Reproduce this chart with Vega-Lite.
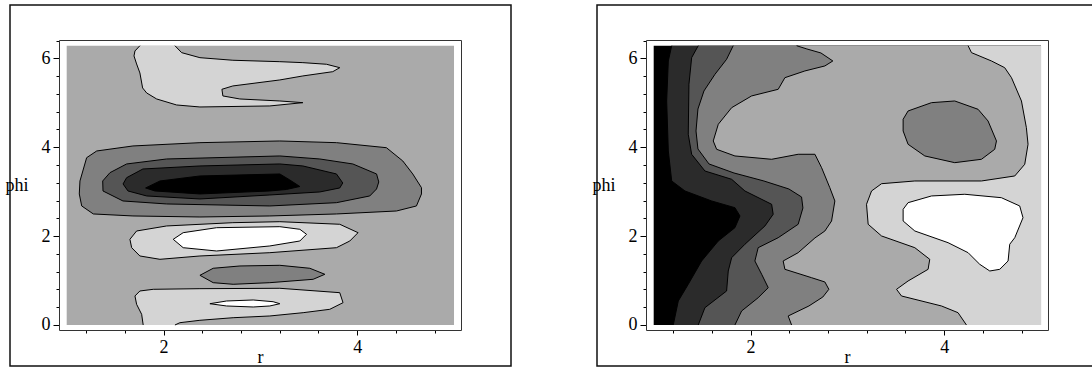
{
"$schema": "https://vega.github.io/schema/vega-lite/v6.json",
"padding": {"left": 4, "top": 4, "right": 0, "bottom": 0},
"spacing": 79,
"config": {
  "view": {"stroke": "#111", "strokeWidth": 1.5},
  "axis": {"labelFont": "Liberation Serif", "labelFontSize": 18, "labelColor": "#000", "titleFont": "Liberation Serif", "titleFontSize": 18, "titleFontWeight": "normal", "titleColor": "#000", "domainColor": "#333", "domainWidth": 1, "tickColor": "#000", "tickWidth": 1, "grid": false, "labelOverlap": false, "labelFlush": false}
},
"datasets": {"cont": [
{"p":"a","g":"a00","k":0,"r":1,"phi":0,"c":4,"ln":0},
{"p":"a","g":"a00","k":1,"r":5,"phi":0,"c":4,"ln":0},
{"p":"a","g":"a00","k":2,"r":5,"phi":6.2832,"c":4,"ln":0},
{"p":"a","g":"a00","k":3,"r":1,"phi":6.2832,"c":4,"ln":0},
{"p":"a","g":"a01","k":0,"r":2.118,"phi":6.283,"c":5,"ln":1},
{"p":"a","g":"a01","k":1,"r":2.187,"phi":6.127,"c":5,"ln":1},
{"p":"a","g":"a01","k":2,"r":2.376,"phi":6.014,"c":5,"ln":1},
{"p":"a","g":"a01","k":3,"r":2.716,"phi":5.956,"c":5,"ln":1},
{"p":"a","g":"a01","k":4,"r":3.201,"phi":5.924,"c":5,"ln":1},
{"p":"a","g":"a01","k":5,"r":3.439,"phi":5.902,"c":5,"ln":1},
{"p":"a","g":"a01","k":6,"r":3.683,"phi":5.866,"c":5,"ln":1},
{"p":"a","g":"a01","k":7,"r":3.820,"phi":5.789,"c":5,"ln":1},
{"p":"a","g":"a01","k":8,"r":3.748,"phi":5.699,"c":5,"ln":1},
{"p":"a","g":"a01","k":9,"r":3.439,"phi":5.603,"c":5,"ln":1},
{"p":"a","g":"a01","k":10,"r":3.201,"phi":5.513,"c":5,"ln":1},
{"p":"a","g":"a01","k":11,"r":2.716,"phi":5.378,"c":5,"ln":1},
{"p":"a","g":"a01","k":12,"r":2.603,"phi":5.303,"c":5,"ln":1},
{"p":"a","g":"a01","k":13,"r":2.613,"phi":5.153,"c":5,"ln":1},
{"p":"a","g":"a01","k":14,"r":2.788,"phi":5.085,"c":5,"ln":1},
{"p":"a","g":"a01","k":15,"r":3.201,"phi":5.040,"c":5,"ln":1},
{"p":"a","g":"a01","k":16,"r":3.439,"phi":5.002,"c":5,"ln":1},
{"p":"a","g":"a01","k":17,"r":3.098,"phi":4.928,"c":5,"ln":1},
{"p":"a","g":"a01","k":18,"r":2.376,"phi":4.905,"c":5,"ln":1},
{"p":"a","g":"a01","k":19,"r":2.135,"phi":4.950,"c":5,"ln":1},
{"p":"a","g":"a01","k":20,"r":1.929,"phi":5.085,"c":5,"ln":1},
{"p":"a","g":"a01","k":21,"r":1.826,"phi":5.220,"c":5,"ln":1},
{"p":"a","g":"a01","k":22,"r":1.784,"phi":5.333,"c":5,"ln":1},
{"p":"a","g":"a01","k":23,"r":1.756,"phi":5.670,"c":5,"ln":1},
{"p":"a","g":"a01","k":24,"r":1.722,"phi":5.873,"c":5,"ln":1},
{"p":"a","g":"a01","k":25,"r":1.695,"phi":6.053,"c":5,"ln":1},
{"p":"a","g":"a01","k":26,"r":1.705,"phi":6.165,"c":5,"ln":1},
{"p":"a","g":"a01","k":27,"r":1.756,"phi":6.283,"c":5,"ln":1},
{"p":"a","g":"a02","k":0,"r":1.137,"phi":3.240,"c":3,"ln":1},
{"p":"a","g":"a02","k":1,"r":1.206,"phi":3.764,"c":3,"ln":1},
{"p":"a","g":"a02","k":2,"r":1.310,"phi":3.915,"c":3,"ln":1},
{"p":"a","g":"a02","k":3,"r":1.684,"phi":4.028,"c":3,"ln":1},
{"p":"a","g":"a02","k":4,"r":2.376,"phi":4.102,"c":3,"ln":1},
{"p":"a","g":"a02","k":5,"r":3.201,"phi":4.140,"c":3,"ln":1},
{"p":"a","g":"a02","k":6,"r":3.786,"phi":4.102,"c":3,"ln":1},
{"p":"a","g":"a02","k":7,"r":4.302,"phi":3.989,"c":3,"ln":1},
{"p":"a","g":"a02","k":8,"r":4.471,"phi":3.690,"c":3,"ln":1},
{"p":"a","g":"a02","k":9,"r":4.574,"phi":3.398,"c":3,"ln":1},
{"p":"a","g":"a02","k":10,"r":4.664,"phi":3.089,"c":3,"ln":1},
{"p":"a","g":"a02","k":11,"r":4.664,"phi":2.948,"c":3,"ln":1},
{"p":"a","g":"a02","k":12,"r":4.612,"phi":2.678,"c":3,"ln":1},
{"p":"a","g":"a02","k":13,"r":4.406,"phi":2.565,"c":3,"ln":1},
{"p":"a","g":"a02","k":14,"r":3.786,"phi":2.498,"c":3,"ln":1},
{"p":"a","g":"a02","k":15,"r":3.098,"phi":2.453,"c":3,"ln":1},
{"p":"a","g":"a02","k":16,"r":2.376,"phi":2.430,"c":3,"ln":1},
{"p":"a","g":"a02","k":17,"r":1.684,"phi":2.453,"c":3,"ln":1},
{"p":"a","g":"a02","k":18,"r":1.275,"phi":2.498,"c":3,"ln":1},
{"p":"a","g":"a02","k":19,"r":1.155,"phi":2.678,"c":3,"ln":1},
{"p":"a","g":"a02","k":20,"r":1.130,"phi":2.948,"c":3,"ln":1},
{"p":"a","g":"a02","k":21,"r":1.137,"phi":3.240,"c":3,"ln":1},
{"p":"a","g":"a03","k":0,"r":1.372,"phi":3.240,"c":2,"ln":1},
{"p":"a","g":"a03","k":1,"r":1.447,"phi":3.427,"c":2,"ln":1},
{"p":"a","g":"a03","k":2,"r":1.619,"phi":3.623,"c":2,"ln":1},
{"p":"a","g":"a03","k":3,"r":2.032,"phi":3.735,"c":2,"ln":1},
{"p":"a","g":"a03","k":4,"r":3.201,"phi":3.803,"c":2,"ln":1},
{"p":"a","g":"a03","k":5,"r":3.614,"phi":3.735,"c":2,"ln":1},
{"p":"a","g":"a03","k":6,"r":3.955,"phi":3.623,"c":2,"ln":1},
{"p":"a","g":"a03","k":7,"r":4.200,"phi":3.398,"c":2,"ln":1},
{"p":"a","g":"a03","k":8,"r":4.223,"phi":3.218,"c":2,"ln":1},
{"p":"a","g":"a03","k":9,"r":4.200,"phi":3.060,"c":2,"ln":1},
{"p":"a","g":"a03","k":10,"r":4.130,"phi":2.903,"c":2,"ln":1},
{"p":"a","g":"a03","k":11,"r":3.786,"phi":2.752,"c":2,"ln":1},
{"p":"a","g":"a03","k":12,"r":3.098,"phi":2.678,"c":2,"ln":1},
{"p":"a","g":"a03","k":13,"r":2.032,"phi":2.723,"c":2,"ln":1},
{"p":"a","g":"a03","k":14,"r":1.581,"phi":2.790,"c":2,"ln":1},
{"p":"a","g":"a03","k":15,"r":1.375,"phi":3.015,"c":2,"ln":1},
{"p":"a","g":"a03","k":16,"r":1.372,"phi":3.240,"c":2,"ln":1},
{"p":"a","g":"a04","k":0,"r":1.582,"phi":3.173,"c":1,"ln":1},
{"p":"a","g":"a04","k":1,"r":1.619,"phi":3.314,"c":1,"ln":1},
{"p":"a","g":"a04","k":2,"r":1.787,"phi":3.510,"c":1,"ln":1},
{"p":"a","g":"a04","k":3,"r":2.376,"phi":3.578,"c":1,"ln":1},
{"p":"a","g":"a04","k":4,"r":3.201,"phi":3.623,"c":1,"ln":1},
{"p":"a","g":"a04","k":5,"r":3.439,"phi":3.578,"c":1,"ln":1},
{"p":"a","g":"a04","k":6,"r":3.786,"phi":3.398,"c":1,"ln":1},
{"p":"a","g":"a04","k":7,"r":3.851,"phi":3.195,"c":1,"ln":1},
{"p":"a","g":"a04","k":8,"r":3.820,"phi":3.083,"c":1,"ln":1},
{"p":"a","g":"a04","k":9,"r":3.614,"phi":2.993,"c":1,"ln":1},
{"p":"a","g":"a04","k":10,"r":3.098,"phi":2.925,"c":1,"ln":1},
{"p":"a","g":"a04","k":11,"r":2.376,"phi":2.835,"c":1,"ln":1},
{"p":"a","g":"a04","k":12,"r":1.826,"phi":2.903,"c":1,"ln":1},
{"p":"a","g":"a04","k":13,"r":1.633,"phi":3.015,"c":1,"ln":1},
{"p":"a","g":"a04","k":14,"r":1.582,"phi":3.173,"c":1,"ln":1},
{"p":"a","g":"a05","k":0,"r":1.815,"phi":3.083,"c":0,"ln":1},
{"p":"a","g":"a05","k":1,"r":1.963,"phi":3.240,"c":0,"ln":1},
{"p":"a","g":"a05","k":2,"r":2.376,"phi":3.353,"c":0,"ln":1},
{"p":"a","g":"a05","k":3,"r":3.201,"phi":3.398,"c":0,"ln":1},
{"p":"a","g":"a05","k":4,"r":3.304,"phi":3.263,"c":0,"ln":1},
{"p":"a","g":"a05","k":5,"r":3.408,"phi":3.116,"c":0,"ln":1},
{"p":"a","g":"a05","k":6,"r":3.270,"phi":3.049,"c":0,"ln":1},
{"p":"a","g":"a05","k":7,"r":3.098,"phi":3.015,"c":0,"ln":1},
{"p":"a","g":"a05","k":8,"r":2.376,"phi":2.948,"c":0,"ln":1},
{"p":"a","g":"a05","k":9,"r":1.911,"phi":3.015,"c":0,"ln":1},
{"p":"a","g":"a05","k":10,"r":1.815,"phi":3.083,"c":0,"ln":1},
{"p":"a","g":"a06","k":0,"r":1.653,"phi":1.928,"c":5,"ln":1},
{"p":"a","g":"a06","k":1,"r":1.722,"phi":2.115,"c":5,"ln":1},
{"p":"a","g":"a06","k":2,"r":2.032,"phi":2.228,"c":5,"ln":1},
{"p":"a","g":"a06","k":3,"r":2.716,"phi":2.302,"c":5,"ln":1},
{"p":"a","g":"a06","k":4,"r":3.201,"phi":2.324,"c":5,"ln":1},
{"p":"a","g":"a06","k":5,"r":3.820,"phi":2.266,"c":5,"ln":1},
{"p":"a","g":"a06","k":6,"r":4.009,"phi":2.077,"c":5,"ln":1},
{"p":"a","g":"a06","k":7,"r":3.924,"phi":1.890,"c":5,"ln":1},
{"p":"a","g":"a06","k":8,"r":3.786,"phi":1.739,"c":5,"ln":1},
{"p":"a","g":"a06","k":9,"r":3.098,"phi":1.627,"c":5,"ln":1},
{"p":"a","g":"a06","k":10,"r":2.376,"phi":1.553,"c":5,"ln":1},
{"p":"a","g":"a06","k":11,"r":1.963,"phi":1.478,"c":5,"ln":1},
{"p":"a","g":"a06","k":12,"r":1.756,"phi":1.553,"c":5,"ln":1},
{"p":"a","g":"a06","k":13,"r":1.671,"phi":1.739,"c":5,"ln":1},
{"p":"a","g":"a06","k":14,"r":1.653,"phi":1.928,"c":5,"ln":1},
{"p":"a","g":"a07","k":0,"r":2.100,"phi":1.928,"c":6,"ln":1},
{"p":"a","g":"a07","k":1,"r":2.203,"phi":2.077,"c":6,"ln":1},
{"p":"a","g":"a07","k":2,"r":2.548,"phi":2.189,"c":6,"ln":1},
{"p":"a","g":"a07","k":3,"r":3.201,"phi":2.212,"c":6,"ln":1},
{"p":"a","g":"a07","k":4,"r":3.408,"phi":2.153,"c":6,"ln":1},
{"p":"a","g":"a07","k":5,"r":3.477,"phi":2.041,"c":6,"ln":1},
{"p":"a","g":"a07","k":6,"r":3.408,"phi":1.890,"c":6,"ln":1},
{"p":"a","g":"a07","k":7,"r":3.098,"phi":1.778,"c":6,"ln":1},
{"p":"a","g":"a07","k":8,"r":2.548,"phi":1.665,"c":6,"ln":1},
{"p":"a","g":"a07","k":9,"r":2.203,"phi":1.739,"c":6,"ln":1},
{"p":"a","g":"a07","k":10,"r":2.100,"phi":1.928,"c":6,"ln":1},
{"p":"a","g":"a08","k":0,"r":2.376,"phi":1.118,"c":3,"ln":1},
{"p":"a","g":"a08","k":1,"r":2.513,"phi":1.276,"c":3,"ln":1},
{"p":"a","g":"a08","k":2,"r":2.789,"phi":1.328,"c":3,"ln":1},
{"p":"a","g":"a08","k":3,"r":3.201,"phi":1.343,"c":3,"ln":1},
{"p":"a","g":"a08","k":4,"r":3.511,"phi":1.276,"c":3,"ln":1},
{"p":"a","g":"a08","k":5,"r":3.666,"phi":1.141,"c":3,"ln":1},
{"p":"a","g":"a08","k":6,"r":3.545,"phi":1.028,"c":3,"ln":1},
{"p":"a","g":"a08","k":7,"r":3.098,"phi":0.952,"c":3,"ln":1},
{"p":"a","g":"a08","k":8,"r":2.719,"phi":0.916,"c":3,"ln":1},
{"p":"a","g":"a08","k":9,"r":2.513,"phi":0.952,"c":3,"ln":1},
{"p":"a","g":"a08","k":10,"r":2.376,"phi":1.118,"c":3,"ln":1},
{"p":"a","g":"a09","k":0,"r":1.790,"phi":0,"c":5,"ln":1},
{"p":"a","g":"a09","k":1,"r":1.774,"phi":0.241,"c":5,"ln":1},
{"p":"a","g":"a09","k":2,"r":1.722,"phi":0.466,"c":5,"ln":1},
{"p":"a","g":"a09","k":3,"r":1.705,"phi":0.653,"c":5,"ln":1},
{"p":"a","g":"a09","k":4,"r":1.756,"phi":0.765,"c":5,"ln":1},
{"p":"a","g":"a09","k":5,"r":1.894,"phi":0.803,"c":5,"ln":1},
{"p":"a","g":"a09","k":6,"r":2.376,"phi":0.817,"c":5,"ln":1},
{"p":"a","g":"a09","k":7,"r":3.201,"phi":0.826,"c":5,"ln":1},
{"p":"a","g":"a09","k":8,"r":3.820,"phi":0.727,"c":5,"ln":1},
{"p":"a","g":"a09","k":9,"r":3.854,"phi":0.502,"c":5,"ln":1},
{"p":"a","g":"a09","k":10,"r":3.717,"phi":0.353,"c":5,"ln":1},
{"p":"a","g":"a09","k":11,"r":3.442,"phi":0.277,"c":5,"ln":1},
{"p":"a","g":"a09","k":12,"r":3.098,"phi":0.203,"c":5,"ln":1},
{"p":"a","g":"a09","k":13,"r":2.719,"phi":0.164,"c":5,"ln":1},
{"p":"a","g":"a09","k":14,"r":2.376,"phi":0.106,"c":5,"ln":1},
{"p":"a","g":"a09","k":15,"r":2.169,"phi":0.052,"c":5,"ln":1},
{"p":"a","g":"a09","k":16,"r":2.118,"phi":0,"c":5,"ln":1},
{"p":"a","g":"a10","k":0,"r":2.479,"phi":0.479,"c":6,"ln":1},
{"p":"a","g":"a10","k":1,"r":2.651,"phi":0.540,"c":6,"ln":1},
{"p":"a","g":"a10","k":2,"r":2.926,"phi":0.563,"c":6,"ln":1},
{"p":"a","g":"a10","k":3,"r":3.132,"phi":0.524,"c":6,"ln":1},
{"p":"a","g":"a10","k":4,"r":3.201,"phi":0.479,"c":6,"ln":1},
{"p":"a","g":"a10","k":5,"r":3.098,"phi":0.428,"c":6,"ln":1},
{"p":"a","g":"a10","k":6,"r":2.926,"phi":0.405,"c":6,"ln":1},
{"p":"a","g":"a10","k":7,"r":2.651,"phi":0.428,"c":6,"ln":1},
{"p":"a","g":"a10","k":8,"r":2.479,"phi":0.479,"c":6,"ln":1},
{"p":"b","g":"b00","k":0,"r":1,"phi":0,"c":0,"ln":0},
{"p":"b","g":"b00","k":1,"r":5,"phi":0,"c":0,"ln":0},
{"p":"b","g":"b00","k":2,"r":5,"phi":6.2832,"c":0,"ln":0},
{"p":"b","g":"b00","k":3,"r":1,"phi":6.2832,"c":0,"ln":0},
{"p":"b","g":"b01","k":0,"r":1.186,"phi":6.2832,"c":1,"ln":1},
{"p":"b","g":"b01","k":1,"r":1.151,"phi":5.940,"c":1,"ln":1},
{"p":"b","g":"b01","k":2,"r":1.134,"phi":5.040,"c":1,"ln":1},
{"p":"b","g":"b01","k":3,"r":1.151,"phi":3.915,"c":1,"ln":1},
{"p":"b","g":"b01","k":4,"r":1.186,"phi":3.240,"c":1,"ln":1},
{"p":"b","g":"b01","k":5,"r":1.323,"phi":3.015,"c":1,"ln":1},
{"p":"b","g":"b01","k":6,"r":1.599,"phi":2.790,"c":1,"ln":1},
{"p":"b","g":"b01","k":7,"r":1.839,"phi":2.639,"c":1,"ln":1},
{"p":"b","g":"b01","k":8,"r":1.891,"phi":2.453,"c":1,"ln":1},
{"p":"b","g":"b01","k":9,"r":1.839,"phi":2.189,"c":1,"ln":1},
{"p":"b","g":"b01","k":10,"r":1.667,"phi":1.890,"c":1,"ln":1},
{"p":"b","g":"b01","k":11,"r":1.495,"phi":1.440,"c":1,"ln":1},
{"p":"b","g":"b01","k":12,"r":1.357,"phi":0.916,"c":1,"ln":1},
{"p":"b","g":"b01","k":13,"r":1.254,"phi":0.540,"c":1,"ln":1},
{"p":"b","g":"b01","k":14,"r":1.202,"phi":0,"c":1,"ln":1},
{"p":"b","g":"b01","k":15,"r":5,"phi":0,"c":1,"ln":0},
{"p":"b","g":"b01","k":16,"r":5,"phi":6.2832,"c":1,"ln":0},
{"p":"b","g":"b02","k":0,"r":1.460,"phi":6.2832,"c":2,"ln":1},
{"p":"b","g":"b02","k":1,"r":1.392,"phi":6.014,"c":2,"ln":1},
{"p":"b","g":"b02","k":2,"r":1.364,"phi":5.416,"c":2,"ln":1},
{"p":"b","g":"b02","k":3,"r":1.357,"phi":4.291,"c":2,"ln":1},
{"p":"b","g":"b02","k":4,"r":1.392,"phi":3.841,"c":2,"ln":1},
{"p":"b","g":"b02","k":5,"r":1.529,"phi":3.465,"c":2,"ln":1},
{"p":"b","g":"b02","k":6,"r":1.805,"phi":3.278,"c":2,"ln":1},
{"p":"b","g":"b02","k":7,"r":1.942,"phi":3.015,"c":2,"ln":1},
{"p":"b","g":"b02","k":8,"r":2.218,"phi":2.716,"c":2,"ln":1},
{"p":"b","g":"b02","k":9,"r":2.234,"phi":2.491,"c":2,"ln":1},
{"p":"b","g":"b02","k":10,"r":2.149,"phi":2.228,"c":2,"ln":1},
{"p":"b","g":"b02","k":11,"r":1.942,"phi":1.816,"c":2,"ln":1},
{"p":"b","g":"b02","k":12,"r":1.805,"phi":1.514,"c":2,"ln":1},
{"p":"b","g":"b02","k":13,"r":1.770,"phi":1.215,"c":2,"ln":1},
{"p":"b","g":"b02","k":14,"r":1.753,"phi":0.765,"c":2,"ln":1},
{"p":"b","g":"b02","k":15,"r":1.529,"phi":0.389,"c":2,"ln":1},
{"p":"b","g":"b02","k":16,"r":1.460,"phi":0,"c":2,"ln":1},
{"p":"b","g":"b02","k":17,"r":5,"phi":0,"c":2,"ln":0},
{"p":"b","g":"b02","k":18,"r":5,"phi":6.2832,"c":2,"ln":0},
{"p":"b","g":"b03","k":0,"r":1.821,"phi":6.2832,"c":3,"ln":1},
{"p":"b","g":"b03","k":1,"r":1.753,"phi":5.978,"c":3,"ln":1},
{"p":"b","g":"b03","k":2,"r":1.633,"phi":5.641,"c":3,"ln":1},
{"p":"b","g":"b03","k":3,"r":1.519,"phi":5.265,"c":3,"ln":1},
{"p":"b","g":"b03","k":4,"r":1.457,"phi":4.860,"c":3,"ln":1},
{"p":"b","g":"b03","k":5,"r":1.437,"phi":4.365,"c":3,"ln":1},
{"p":"b","g":"b03","k":6,"r":1.457,"phi":3.960,"c":3,"ln":1},
{"p":"b","g":"b03","k":7,"r":1.571,"phi":3.623,"c":3,"ln":1},
{"p":"b","g":"b03","k":8,"r":1.829,"phi":3.420,"c":3,"ln":1},
{"p":"b","g":"b03","k":9,"r":2.138,"phi":3.240,"c":3,"ln":1},
{"p":"b","g":"b03","k":10,"r":2.396,"phi":3.060,"c":3,"ln":1},
{"p":"b","g":"b03","k":11,"r":2.527,"phi":2.880,"c":3,"ln":1},
{"p":"b","g":"b03","k":12,"r":2.541,"phi":2.633,"c":3,"ln":1},
{"p":"b","g":"b03","k":13,"r":2.492,"phi":2.266,"c":3,"ln":1},
{"p":"b","g":"b03","k":14,"r":2.286,"phi":1.964,"c":3,"ln":1},
{"p":"b","g":"b03","k":15,"r":2.079,"phi":1.739,"c":3,"ln":1},
{"p":"b","g":"b03","k":16,"r":2.045,"phi":1.440,"c":3,"ln":1},
{"p":"b","g":"b03","k":17,"r":2.115,"phi":1.141,"c":3,"ln":1},
{"p":"b","g":"b03","k":18,"r":2.183,"phi":0.839,"c":3,"ln":1},
{"p":"b","g":"b03","k":19,"r":2.079,"phi":0.614,"c":3,"ln":1},
{"p":"b","g":"b03","k":20,"r":1.908,"phi":0.315,"c":3,"ln":1},
{"p":"b","g":"b03","k":21,"r":1.839,"phi":0,"c":3,"ln":1},
{"p":"b","g":"b03","k":22,"r":5,"phi":0,"c":3,"ln":0},
{"p":"b","g":"b03","k":23,"r":5,"phi":6.2832,"c":3,"ln":0},
{"p":"b","g":"b04","k":0,"r":2.476,"phi":6.2832,"c":4,"ln":1},
{"p":"b","g":"b04","k":1,"r":2.582,"phi":6.210,"c":4,"ln":1},
{"p":"b","g":"b04","k":2,"r":2.727,"phi":6.120,"c":4,"ln":1},
{"p":"b","g":"b04","k":3,"r":2.850,"phi":5.940,"c":4,"ln":1},
{"p":"b","g":"b04","k":4,"r":2.768,"phi":5.828,"c":4,"ln":1},
{"p":"b","g":"b04","k":5,"r":2.561,"phi":5.715,"c":4,"ln":1},
{"p":"b","g":"b04","k":6,"r":2.355,"phi":5.564,"c":4,"ln":1},
{"p":"b","g":"b04","k":7,"r":2.286,"phi":5.303,"c":4,"ln":1},
{"p":"b","g":"b04","k":8,"r":2.011,"phi":5.153,"c":4,"ln":1},
{"p":"b","g":"b04","k":9,"r":1.805,"phi":4.889,"c":4,"ln":1},
{"p":"b","g":"b04","k":10,"r":1.667,"phi":4.516,"c":4,"ln":1},
{"p":"b","g":"b04","k":11,"r":1.615,"phi":4.140,"c":4,"ln":1},
{"p":"b","g":"b04","k":12,"r":1.650,"phi":3.953,"c":4,"ln":1},
{"p":"b","g":"b04","k":13,"r":1.839,"phi":3.803,"c":4,"ln":1},
{"p":"b","g":"b04","k":14,"r":2.218,"phi":3.728,"c":4,"ln":1},
{"p":"b","g":"b04","k":15,"r":2.492,"phi":3.841,"c":4,"ln":1},
{"p":"b","g":"b04","k":16,"r":2.665,"phi":3.841,"c":4,"ln":1},
{"p":"b","g":"b04","k":17,"r":2.734,"phi":3.539,"c":4,"ln":1},
{"p":"b","g":"b04","k":18,"r":2.819,"phi":3.089,"c":4,"ln":1},
{"p":"b","g":"b04","k":19,"r":2.871,"phi":2.790,"c":4,"ln":1},
{"p":"b","g":"b04","k":20,"r":2.837,"phi":2.340,"c":4,"ln":1},
{"p":"b","g":"b04","k":21,"r":2.768,"phi":2.115,"c":4,"ln":1},
{"p":"b","g":"b04","k":22,"r":2.665,"phi":1.958,"c":4,"ln":1},
{"p":"b","g":"b04","k":23,"r":2.492,"phi":1.627,"c":4,"ln":1},
{"p":"b","g":"b04","k":24,"r":2.337,"phi":1.440,"c":4,"ln":1},
{"p":"b","g":"b04","k":25,"r":2.355,"phi":1.253,"c":4,"ln":1},
{"p":"b","g":"b04","k":26,"r":2.631,"phi":1.064,"c":4,"ln":1},
{"p":"b","g":"b04","k":27,"r":2.768,"phi":0.968,"c":4,"ln":1},
{"p":"b","g":"b04","k":28,"r":2.809,"phi":0.803,"c":4,"ln":1},
{"p":"b","g":"b04","k":29,"r":2.747,"phi":0.630,"c":4,"ln":1},
{"p":"b","g":"b04","k":30,"r":2.603,"phi":0.428,"c":4,"ln":1},
{"p":"b","g":"b04","k":31,"r":2.389,"phi":0.203,"c":4,"ln":1},
{"p":"b","g":"b04","k":32,"r":2.424,"phi":0,"c":4,"ln":1},
{"p":"b","g":"b04","k":33,"r":5,"phi":0,"c":4,"ln":0},
{"p":"b","g":"b04","k":34,"r":5,"phi":6.2832,"c":4,"ln":0},
{"p":"b","g":"b05","k":0,"r":3.576,"phi":4.628,"c":3,"ln":1},
{"p":"b","g":"b05","k":1,"r":3.627,"phi":4.815,"c":3,"ln":1},
{"p":"b","g":"b05","k":2,"r":3.869,"phi":5.002,"c":3,"ln":1},
{"p":"b","g":"b05","k":3,"r":4.109,"phi":5.040,"c":3,"ln":1},
{"p":"b","g":"b05","k":4,"r":4.350,"phi":4.853,"c":3,"ln":1},
{"p":"b","g":"b05","k":5,"r":4.453,"phi":4.590,"c":3,"ln":1},
{"p":"b","g":"b05","k":6,"r":4.540,"phi":4.140,"c":3,"ln":1},
{"p":"b","g":"b05","k":7,"r":4.522,"phi":3.953,"c":3,"ln":1},
{"p":"b","g":"b05","k":8,"r":4.385,"phi":3.728,"c":3,"ln":1},
{"p":"b","g":"b05","k":9,"r":4.109,"phi":3.652,"c":3,"ln":1},
{"p":"b","g":"b05","k":10,"r":3.800,"phi":3.803,"c":3,"ln":1},
{"p":"b","g":"b05","k":11,"r":3.627,"phi":4.066,"c":3,"ln":1},
{"p":"b","g":"b05","k":12,"r":3.576,"phi":4.365,"c":3,"ln":1},
{"p":"b","g":"b05","k":13,"r":3.576,"phi":4.628,"c":3,"ln":1},
{"p":"b","g":"b06","k":0,"r":4.247,"phi":6.2832,"c":5,"ln":1},
{"p":"b","g":"b06","k":1,"r":4.282,"phi":6.127,"c":5,"ln":1},
{"p":"b","g":"b06","k":2,"r":4.488,"phi":5.940,"c":5,"ln":1},
{"p":"b","g":"b06","k":3,"r":4.625,"phi":5.789,"c":5,"ln":1},
{"p":"b","g":"b06","k":4,"r":4.695,"phi":5.564,"c":5,"ln":1},
{"p":"b","g":"b06","k":5,"r":4.798,"phi":5.040,"c":5,"ln":1},
{"p":"b","g":"b06","k":6,"r":4.849,"phi":4.439,"c":5,"ln":1},
{"p":"b","g":"b06","k":7,"r":4.866,"phi":4.066,"c":5,"ln":1},
{"p":"b","g":"b06","k":8,"r":4.832,"phi":3.616,"c":5,"ln":1},
{"p":"b","g":"b06","k":9,"r":4.729,"phi":3.353,"c":5,"ln":1},
{"p":"b","g":"b06","k":10,"r":4.385,"phi":3.240,"c":5,"ln":1},
{"p":"b","g":"b06","k":11,"r":3.697,"phi":3.240,"c":5,"ln":1},
{"p":"b","g":"b06","k":12,"r":3.353,"phi":3.179,"c":5,"ln":1},
{"p":"b","g":"b06","k":13,"r":3.250,"phi":3.015,"c":5,"ln":1},
{"p":"b","g":"b06","k":14,"r":3.198,"phi":2.716,"c":5,"ln":1},
{"p":"b","g":"b06","k":15,"r":3.215,"phi":2.266,"c":5,"ln":1},
{"p":"b","g":"b06","k":16,"r":3.353,"phi":2.003,"c":5,"ln":1},
{"p":"b","g":"b06","k":17,"r":3.697,"phi":1.739,"c":5,"ln":1},
{"p":"b","g":"b06","k":18,"r":3.851,"phi":1.478,"c":5,"ln":1},
{"p":"b","g":"b06","k":19,"r":3.834,"phi":1.253,"c":5,"ln":1},
{"p":"b","g":"b06","k":20,"r":3.627,"phi":0.990,"c":5,"ln":1},
{"p":"b","g":"b06","k":21,"r":3.508,"phi":0.803,"c":5,"ln":1},
{"p":"b","g":"b06","k":22,"r":3.559,"phi":0.653,"c":5,"ln":1},
{"p":"b","g":"b06","k":23,"r":3.972,"phi":0.428,"c":5,"ln":1},
{"p":"b","g":"b06","k":24,"r":4.143,"phi":0.277,"c":5,"ln":1},
{"p":"b","g":"b06","k":25,"r":4.230,"phi":0,"c":5,"ln":1},
{"p":"b","g":"b06","k":26,"r":5,"phi":0,"c":5,"ln":0},
{"p":"b","g":"b06","k":27,"r":5,"phi":6.2832,"c":5,"ln":0},
{"p":"b","g":"b07","k":0,"r":3.576,"phi":2.603,"c":6,"ln":1},
{"p":"b","g":"b07","k":1,"r":3.627,"phi":2.752,"c":6,"ln":1},
{"p":"b","g":"b07","k":2,"r":3.869,"phi":2.903,"c":6,"ln":1},
{"p":"b","g":"b07","k":3,"r":4.213,"phi":2.941,"c":6,"ln":1},
{"p":"b","g":"b07","k":4,"r":4.591,"phi":2.864,"c":6,"ln":1},
{"p":"b","g":"b07","k":5,"r":4.780,"phi":2.678,"c":6,"ln":1},
{"p":"b","g":"b07","k":6,"r":4.814,"phi":2.414,"c":6,"ln":1},
{"p":"b","g":"b07","k":7,"r":4.729,"phi":1.964,"c":6,"ln":1},
{"p":"b","g":"b07","k":8,"r":4.677,"phi":1.816,"c":6,"ln":1},
{"p":"b","g":"b07","k":9,"r":4.660,"phi":1.440,"c":6,"ln":1},
{"p":"b","g":"b07","k":10,"r":4.574,"phi":1.253,"c":6,"ln":1},
{"p":"b","g":"b07","k":11,"r":4.471,"phi":1.215,"c":6,"ln":1},
{"p":"b","g":"b07","k":12,"r":4.367,"phi":1.366,"c":6,"ln":1},
{"p":"b","g":"b07","k":13,"r":4.247,"phi":1.627,"c":6,"ln":1},
{"p":"b","g":"b07","k":14,"r":4.040,"phi":1.852,"c":6,"ln":1},
{"p":"b","g":"b07","k":15,"r":3.697,"phi":2.115,"c":6,"ln":1},
{"p":"b","g":"b07","k":16,"r":3.576,"phi":2.340,"c":6,"ln":1},
{"p":"b","g":"b07","k":17,"r":3.576,"phi":2.603,"c":6,"ln":1}
]},
"hconcat": [
{
  "width": 501, "height": 361,
  "data": {"name": "cont"},
  "transform": [{"filter": "datum.p == 'a'"}],
  "layer": [
    {
      "mark": {"type": "line", "strokeWidth": 0, "strokeOpacity": 0},
      "encoding": {
        "x": {"field": "r", "type": "quantitative", "scale": {"domain": [0.9205, 5.0722], "range": [49, 451], "nice": false, "zero": false},
              "axis": {"orient": "bottom", "offset": -36, "values": [1.2,1.6,2,2.4,2.8,3.2,3.6,4,4.4,4.8], "labelExpr": "(datum.value == 2 || datum.value == 4) ? ('' + datum.value) : ''", "tickSize": {"condition": {"test": "datum.value == 2 || datum.value == 4", "value": 5}, "value": 3}, "labelPadding": 3, "title": "r", "titleY": 32.5, "titleBaseline": "alphabetic"}},
        "y": {"field": "phi", "type": "quantitative", "scale": {"domain": [-0.1125, 6.4117], "range": [325, 35], "nice": false, "zero": false},
              "axis": {"orient": "left", "offset": -49, "values": [0,0.4,0.8,1.2,1.6,2,2.4,2.8,3.2,3.6,4,4.4,4.8,5.2,5.6,6,6.4], "labelExpr": "(datum.value == 0 || datum.value == 2 || datum.value == 4 || datum.value == 6) ? ('' + datum.value) : ''", "tickSize": {"condition": {"test": "datum.value == 0 || datum.value == 2 || datum.value == 4 || datum.value == 6", "value": 6}, "value": 3}, "labelPadding": 3, "title": "phi", "titleAngle": 0, "titleAlign": "left", "titleBaseline": "alphabetic", "titleX": -54, "titleY": 185}},
        "order": {"field": "k", "type": "quantitative"},
        "detail": {"field": "g"},
        "fill": {"field": "c", "type": "ordinal", "scale": {"domain": [0,1,2,3,4,5,6], "range": ["#000000","#2b2b2b","#555555","#808080","#aaaaaa","#d4d4d4","#ffffff"]}, "legend": null}
      }
    },
    {
      "transform": [{"filter": "datum.ln == 1"}],
      "mark": {"type": "line", "color": "#000", "strokeWidth": 1},
      "encoding": {
        "x": {"field": "r", "type": "quantitative", "scale": {"domain": [0.9205, 5.0722], "range": [49, 451], "nice": false, "zero": false},
              "axis": {"orient": "top", "offset": -35, "ticks": false, "labels": false, "title": null}},
        "y": {"field": "phi", "type": "quantitative", "scale": {"domain": [-0.1125, 6.4117], "range": [325, 35], "nice": false, "zero": false},
              "axis": {"orient": "right", "offset": -50, "ticks": false, "labels": false, "title": null}},
        "order": {"field": "k", "type": "quantitative"},
        "detail": {"field": "g"}
      }
    }
  ],
  "resolve": {"axis": {"x": "independent", "y": "independent"}}
},
{
  "width": 501, "height": 361,
  "data": {"name": "cont"},
  "transform": [{"filter": "datum.p == 'b'"}],
  "layer": [
    {
      "mark": {"type": "line", "strokeWidth": 0, "strokeOpacity": 0},
      "encoding": {
        "x": {"field": "r", "type": "quantitative", "scale": {"domain": [0.9205, 5.0722], "range": [49, 451], "nice": false, "zero": false},
              "axis": {"orient": "bottom", "offset": -36, "values": [1.2,1.6,2,2.4,2.8,3.2,3.6,4,4.4,4.8], "labelExpr": "(datum.value == 2 || datum.value == 4) ? ('' + datum.value) : ''", "tickSize": {"condition": {"test": "datum.value == 2 || datum.value == 4", "value": 5}, "value": 3}, "labelPadding": 3, "title": "r", "titleY": 32.5, "titleBaseline": "alphabetic"}},
        "y": {"field": "phi", "type": "quantitative", "scale": {"domain": [-0.1125, 6.4117], "range": [325, 35], "nice": false, "zero": false},
              "axis": {"orient": "left", "offset": -49, "values": [0,0.4,0.8,1.2,1.6,2,2.4,2.8,3.2,3.6,4,4.4,4.8,5.2,5.6,6,6.4], "labelExpr": "(datum.value == 0 || datum.value == 2 || datum.value == 4 || datum.value == 6) ? ('' + datum.value) : ''", "tickSize": {"condition": {"test": "datum.value == 0 || datum.value == 2 || datum.value == 4 || datum.value == 6", "value": 6}, "value": 3}, "labelPadding": 3, "title": "phi", "titleAngle": 0, "titleAlign": "left", "titleBaseline": "alphabetic", "titleX": -54, "titleY": 185}},
        "order": {"field": "k", "type": "quantitative"},
        "detail": {"field": "g"},
        "fill": {"field": "c", "type": "ordinal", "scale": {"domain": [0,1,2,3,4,5,6], "range": ["#000000","#2b2b2b","#555555","#808080","#aaaaaa","#d4d4d4","#ffffff"]}, "legend": null}
      }
    },
    {
      "transform": [{"filter": "datum.ln == 1"}],
      "mark": {"type": "line", "color": "#000", "strokeWidth": 1},
      "encoding": {
        "x": {"field": "r", "type": "quantitative", "scale": {"domain": [0.9205, 5.0722], "range": [49, 451], "nice": false, "zero": false},
              "axis": {"orient": "top", "offset": -35, "ticks": false, "labels": false, "title": null}},
        "y": {"field": "phi", "type": "quantitative", "scale": {"domain": [-0.1125, 6.4117], "range": [325, 35], "nice": false, "zero": false},
              "axis": {"orient": "right", "offset": -50, "ticks": false, "labels": false, "title": null}},
        "order": {"field": "k", "type": "quantitative"},
        "detail": {"field": "g"}
      }
    }
  ],
  "resolve": {"axis": {"x": "independent", "y": "independent"}}
}
]
}
